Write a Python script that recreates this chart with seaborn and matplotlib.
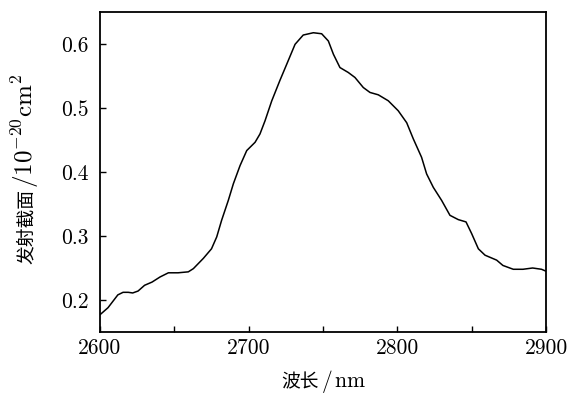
import numpy as np
import pandas as pd
import matplotlib
matplotlib.use("Agg")
import matplotlib.pyplot as plt
from matplotlib.ticker import MultipleLocator
import seaborn as sns

# Emission cross-section spectrum (wavelength in nm, cross-section in 1e-20 cm^2)
wavelength = [2600, 2605.4, 2612, 2615.5, 2619, 2622, 2625.6, 2630, 2635, 2640.4,
              2646, 2652.5, 2659.4, 2662.8, 2669.5, 2675, 2678.5, 2681.8, 2686.3,
              2689.7, 2694.2, 2698.7, 2704.3, 2707.6, 2711, 2715.5, 2721, 2725.6,
              2731.2, 2736.7, 2743.5, 2749.1, 2753.6, 2757, 2761.4, 2767, 2771.5,
              2777.1, 2781.6, 2787.2, 2793.9, 2800.6, 2806.3, 2810.7, 2816.3,
              2819.7, 2824.2, 2829.8, 2835.4, 2841, 2846.2, 2850, 2854.5, 2859,
              2866.8, 2871, 2878, 2884.5, 2891, 2897, 2900]
cross_section = [0.177, 0.188, 0.208, 0.212, 0.212, 0.211, 0.214, 0.223, 0.228, 0.236,
                 0.2425, 0.2425, 0.244, 0.249, 0.265, 0.280, 0.2985, 0.3245, 0.3556,
                 0.3816, 0.410, 0.4335, 0.4464, 0.4594, 0.480, 0.511, 0.543, 0.5684,
                 0.5995, 0.614, 0.6176, 0.616, 0.6047, 0.584, 0.5632, 0.5555, 0.5477,
                 0.532, 0.5243, 0.5206, 0.5113, 0.4957, 0.477, 0.452, 0.423,
                 0.397, 0.376, 0.3556, 0.3323, 0.3256, 0.322, 0.3037, 0.280, 0.270,
                 0.2623, 0.254, 0.248, 0.248, 0.250, 0.248, 0.245]

x_ticks = [2600, 2700, 2800, 2900]
y_ticks = [0.2, 0.3, 0.4, 0.5, 0.6]

df = pd.DataFrame({"wavelength": wavelength, "sigma": cross_section})

sns.set_theme(style="white")
plt.rcParams["font.family"] = ["cmr10", "Noto Sans CJK SC", "DejaVu Sans"]
plt.rcParams["mathtext.fontset"] = "cm"
plt.rcParams["axes.formatter.use_mathtext"] = True

W, H = 571, 394
fig = plt.figure(figsize=(W / 100, H / 100), dpi=100)
ax = fig.add_axes([100 / W, 1 - 332 / H, 446 / W, 320 / H])

sns.lineplot(data=df, x="wavelength", y="sigma", ax=ax, color="black",
             linewidth=1.1, sort=False)

ax.set_xlim(2600, 2900)
ax.set_ylim(0.15, 0.65)
ax.set_xticks(x_ticks)
ax.set_xticklabels([str(t) for t in x_ticks])
ax.xaxis.set_minor_locator(MultipleLocator(50))
ax.set_yticks(y_ticks)
ax.set_yticklabels([f"{t:.1f}" for t in y_ticks])

ax.tick_params(axis="both", which="both", direction="in", length=4, width=1,
               color="black", labelsize=15.5, labelcolor="black",
               top=False, right=False, bottom=True, left=True)
ax.tick_params(axis="x", which="both", pad=5)
ax.tick_params(axis="y", which="both", pad=8)
ax.tick_params(axis="x", which="minor", labelbottom=False)
ax.set_xlabel("")
ax.set_ylabel("")

for sp in ax.spines.values():
    sp.set_color("black")
    sp.set_linewidth(1.3)

cjk = ["Noto Sans CJK SC", "DejaVu Sans"]

# x-axis title: Chinese part plus unit in math font
fig.text(319 / W, 1 - 387 / H, "波长", fontsize=13.5, family=cjk, color="black",
         ha="right", va="baseline")
fig.text(321 / W, 1 - 387 / H, r"$/\,\mathrm{nm}$", fontsize=15.5, color="black",
         ha="left", va="baseline")

# y-axis title, rotated, sharing one baseline
fig.text(32 / W, 1 - 264 / H, "发射截面", fontsize=13.5, family=cjk, color="black",
         ha="left", va="baseline", rotation=90, rotation_mode="anchor")
fig.text(33 / W, 1 - 188 / H, r"$/10^{-20}\mathrm{cm}^2$", fontsize=18, color="black",
         ha="left", va="baseline", rotation=90, rotation_mode="anchor")

fig.savefig("out.png", dpi=100, facecolor="white")
